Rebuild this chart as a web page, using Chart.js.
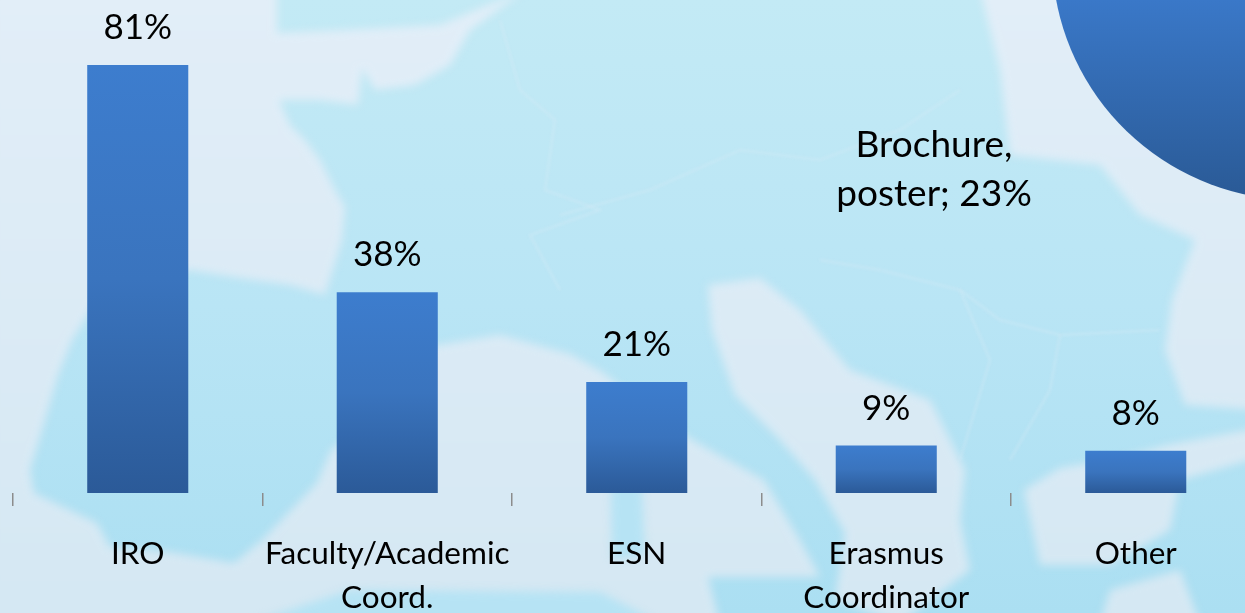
<!DOCTYPE html>
<html><head><meta charset="utf-8">
<script src="https://cdn.jsdelivr.net/npm/chart.js@4"></script>
<style>
html,body{margin:0;padding:0;width:1245px;height:613px;overflow:hidden;background:#cfeaf5}
#wrap{position:relative;width:1245px;height:613px;overflow:hidden}
#bars{position:absolute;left:0;top:0}
#pie{position:absolute;left:1047px;top:-295px}
</style></head><body>
<div id="wrap">
<canvas id="bars" width="1275" height="613"></canvas>
<canvas id="pie" width="500" height="500"></canvas>
</div>
<script>
const categories = [["IRO"], ["Faculty/Academic","Coord."], ["ESN"], ["Erasmus","Coordinator"], ["Other"]];
const values = [81, 38, 21, 9, 8];
const pieLabels = ["Brochure, poster", "Rest of the pie"];
const pieValues = [23, 77];
const pieCaption = ["Brochure,", "poster; 23%"];
const FONT = 'Lato, "Open Sans", sans-serif';

const seaPale = [
 [[-10,-10],[277,-10],[277,33],[345,30],[440,25],[525,-10],[470,30],[450,65],[415,85],[375,90],[362,68],[358,105],[320,100],[279,100],[290,125],[305,140],[320,160],[335,190],[345,207],[342,240],[325,295],[290,285],[240,278],[190,270],[150,275],[100,295],[72,340],[58,375],[42,430],[30,470],[34,493],[97,523],[110,547],[170,552],[234,563],[262,540],[317,483],[331,450],[400,402],[432,346],[500,335],[570,354],[602,372],[640,402],[692,440],[764,480],[800,540],[820,577],[708,577],[720,623],[-10,623]],
 [[708,285],[760,278],[800,310],[850,370],[930,400],[965,470],[960,520],[970,570],[900,623],[835,600],[845,533],[815,480],[780,440],[735,395],[712,330]],
 [[980,-10],[1285,-10],[1285,412],[1185,405],[1165,350],[1172,300],[1195,240],[1140,215],[1100,165],[1010,155],[1000,70]],
 [[1024,490],[1060,468],[1120,458],[1168,445],[1285,423],[1285,450],[1180,480],[1170,530],[1110,565],[1040,565]],
 [[1100,623],[1110,590],[1180,570],[1200,623]]
];
const landBits = [
 [[610,445],[640,445],[645,555],[612,560]],
 [[250,623],[350,590],[600,592],[660,623]]
];
const borders = [
 [[500,20],[520,90],[555,120],[545,190],[600,210],[530,235],[560,290]],
 [[560,215],[650,190],[740,150],[820,160],[900,130],[960,90]],
 [[820,260],[880,270],[960,290],[1000,320],[1060,335],[1160,330]],
 [[960,290],[990,360],[960,460]],
 [[1060,335],[1050,390],[1010,460]]
];
function poly(ctx, pts){ctx.beginPath();pts.forEach((p,i)=>i?ctx.lineTo(p[0],p[1]):ctx.moveTo(p[0],p[1]));}

const backdrop = {
 id:'backdrop',
 beforeDraw(chart){
  const c = chart.ctx, W = chart.width, H = chart.height;
  c.save();
  const sky = c.createLinearGradient(0,0,0,H);
  sky.addColorStop(0,'#C3EAF5'); sky.addColorStop(.5,'#B9E5F5'); sky.addColorStop(1,'#ABDFF2');
  c.fillStyle = sky; c.fillRect(0,0,W,H);
  c.filter = 'blur(4px)';
  const pale = c.createLinearGradient(0,0,0,H);
  pale.addColorStop(0,'#E2EEF8'); pale.addColorStop(1,'#D5E8F3');
  c.fillStyle = pale;
  seaPale.forEach(p=>{poly(c,p);c.closePath();c.fill();});
  c.fillStyle = '#B6E3F4';
  landBits.forEach(p=>{poly(c,p);c.closePath();c.fill();});
  c.filter = 'blur(1.5px)';
  c.strokeStyle = 'rgba(215,235,246,.45)'; c.lineWidth = 2;
  borders.forEach(p=>{poly(c,p);c.stroke();});
  c.restore();
 }
};
const textLayer = {
 id:'textLayer',
 afterDatasetsDraw(chart){
  const c = chart.ctx, meta = chart.getDatasetMeta(0);
  c.save();
  c.fillStyle = '#000'; c.textAlign = 'center'; c.textBaseline = 'middle';
  c.font = '35px '+FONT;
  meta.data.forEach((b,i)=>c.fillText(values[i]+'%', b.x, b.y-37));
  c.font = '37px '+FONT;
  c.fillText(pieCaption[0], 934, 145);
  c.fillText(pieCaption[1], 934, 194);
  c.restore();
 }
};
function barFill(ctx){
 const a = ctx.chart.chartArea;
 if(!a) return '#3A78C8';
 const y = ctx.chart.scales.y, v = ctx.raw;
 const g = ctx.chart.ctx.createLinearGradient(0,y.getPixelForValue(v),0,y.getPixelForValue(0));
 g.addColorStop(0,'#3D7DCE'); g.addColorStop(.5,'#3A74BE'); g.addColorStop(1,'#2B5A98');
 return g;
}
new Chart(document.getElementById('bars'),{
 type:'bar',
 data:{labels:categories,datasets:[{data:values,backgroundColor:barFill,borderWidth:0,barPercentage:.405,categoryPercentage:1}]},
 options:{
  responsive:false,animation:false,
  layout:{padding:{left:13,right:14.5,top:0,bottom:0}},
  plugins:{legend:{display:false},tooltip:{enabled:false},title:{display:false}},
  scales:{
   y:{display:false,min:0,max:93.28},
   x:{
    grid:{display:true,drawOnChartArea:false,drawTicks:true,tickLength:13,color:'#8C8C8C',lineWidth:1.5,offset:true},
    border:{display:false},
    ticks:{color:'#000',font:{family:FONT,size:31.5,lineHeight:1.39},padding:26,maxRotation:0,minRotation:0,autoSkip:false},
    afterFit(s){s.height=120;}
   }
  }
 },
 plugins:[backdrop,textLayer]
});
new Chart(document.getElementById('pie'),{
 type:'pie',
 data:{labels:pieLabels,datasets:[{data:pieValues,borderWidth:0,backgroundColor(ctx){
   if(ctx.dataIndex!==0) return 'rgba(0,0,0,0)';
   const g = ctx.chart.ctx.createLinearGradient(0,295,0,492);
   g.addColorStop(0,'#3A78C8'); g.addColorStop(1,'#2A5A96');
   return g;
 }}]},
 options:{responsive:false,animation:false,rotation:180,radius:245,
  plugins:{legend:{display:false},tooltip:{enabled:false}}}
});
</script>
</body></html>
